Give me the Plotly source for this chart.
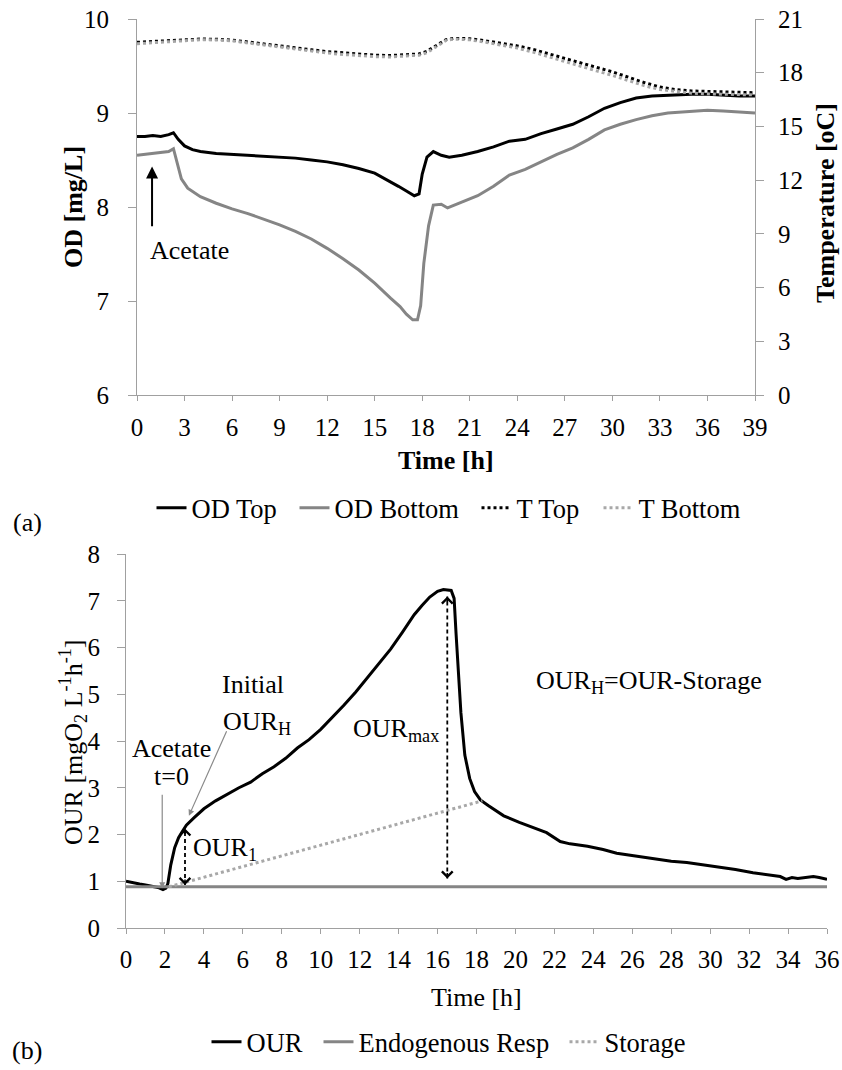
import plotly.graph_objects as go

# ---------------- (a) dissolved oxygen and temperature ----------------
od_time = [0, 0.5, 1.0, 1.5, 2.0, 2.3, 2.6, 3.0, 3.5, 4, 5, 6, 7, 8, 9, 10, 11, 12, 13, 14,
           15, 16, 16.5, 17.0, 17.5, 17.8, 18.0, 18.3, 18.7, 19.2, 19.7, 20.5, 21.5, 22.5,
           23.5, 24.5, 25.5, 26.5, 27.5, 28.5, 29.5, 30.5, 31.5, 32.5, 33.5, 35, 36, 37, 38, 39]
od_top = [8.75, 8.75, 8.76, 8.75, 8.77, 8.79, 8.72, 8.65, 8.61, 8.59, 8.57, 8.56, 8.55, 8.54,
          8.53, 8.52, 8.50, 8.48, 8.45, 8.41, 8.36, 8.27, 8.22, 8.17, 8.12, 8.14, 8.35, 8.53,
          8.59, 8.55, 8.53, 8.55, 8.59, 8.64, 8.70, 8.72, 8.78, 8.83, 8.88, 8.96, 9.05, 9.11,
          9.16, 9.18, 9.19, 9.20, 9.20, 9.19, 9.18, 9.18]

odb_time = [0, 0.5, 1, 1.5, 2.0, 2.3, 2.5, 2.8, 3.2, 4, 5, 6, 7, 8, 9, 10, 11, 12, 13, 14, 15,
            16, 16.6, 17.0, 17.4, 17.7, 17.9, 18.1, 18.4, 18.7, 19.2, 19.6, 20.5, 21.5, 22.5,
            23.5, 24.5, 25.5, 26.5, 27.5, 28.5, 29.5, 30.5, 31.5, 32.5, 33.5, 35, 36, 37, 38, 39]
od_bottom = [8.55, 8.56, 8.57, 8.58, 8.59, 8.62, 8.50, 8.30, 8.20, 8.11, 8.04, 7.98, 7.93,
             7.87, 7.81, 7.74, 7.66, 7.56, 7.45, 7.33, 7.19, 7.03, 6.94, 6.86, 6.80, 6.80,
             6.95, 7.40, 7.80, 8.02, 8.03, 7.99, 8.05, 8.12, 8.22, 8.34, 8.40, 8.48, 8.56,
             8.63, 8.72, 8.82, 8.88, 8.93, 8.97, 9.00, 9.02, 9.03, 9.02, 9.01, 9.00]

temp_time = [0, 1, 2, 3, 4, 5, 6, 7, 8, 9, 10, 11, 12, 13, 14, 15, 16, 17, 17.8, 18.3, 19,
             19.5, 20, 21, 22, 23, 24, 25, 26, 27, 28, 29, 30, 31, 32, 33, 34, 35, 36, 37, 38, 39]
t_top = [19.70, 19.75, 19.80, 19.85, 19.88, 19.87, 19.82, 19.72, 19.60, 19.48, 19.38, 19.28,
         19.18, 19.10, 19.02, 18.98, 18.96, 19.00, 19.05, 19.20, 19.60, 19.85, 19.92, 19.90,
         19.78, 19.65, 19.50, 19.30, 19.05, 18.80, 18.55, 18.30, 18.05, 17.75, 17.45, 17.20,
         17.05, 16.98, 16.95, 16.92, 16.90, 16.88]
t_bottom = [19.62, 19.68, 19.74, 19.80, 19.84, 19.83, 19.78, 19.66, 19.54, 19.42, 19.30, 19.20,
            19.10, 19.02, 18.94, 18.90, 18.88, 18.92, 18.98, 19.12, 19.52, 19.80, 19.88, 19.84,
            19.70, 19.55, 19.38, 19.15, 18.88, 18.62, 18.36, 18.10, 17.85, 17.55, 17.28, 17.06,
            16.94, 16.86, 16.82, 16.80, 16.78, 16.76]

# ---------------- (b) oxygen uptake rate ----------------
our_time = [0, 0.3, 0.7, 1.0, 1.4, 1.7, 1.9, 2.05, 2.15, 2.3, 2.5, 2.7, 2.9, 3.1, 3.5, 4.0,
            4.6, 5.2, 5.8, 6.4, 7.0, 7.6, 8.2, 8.8, 9.4, 10.0, 10.6, 11.2, 11.8, 12.4, 13.0,
            13.6, 14.2, 14.8, 15.2, 15.6, 16.0, 16.3, 16.7, 16.85, 16.95, 17.05, 17.2, 17.4,
            17.65, 17.9, 18.2, 18.6, 19.4, 20.2, 20.8, 21.6, 22.3, 22.8, 23.7, 24.5, 25.2,
            26.2, 27.1, 28.0, 28.8, 29.5, 30.5, 31.3, 32.2, 33.0, 33.6, 33.9, 34.2, 34.5,
            34.8, 35.3, 35.6, 36.0]
our = [1.00, 0.97, 0.94, 0.92, 0.89, 0.86, 0.82, 0.85, 0.95, 1.35, 1.72, 1.93, 2.07, 2.20,
       2.36, 2.55, 2.72, 2.86, 3.00, 3.12, 3.30, 3.45, 3.63, 3.85, 4.03, 4.25, 4.50, 4.77,
       5.05, 5.36, 5.66, 5.97, 6.33, 6.70, 6.90, 7.08, 7.20, 7.24, 7.22, 7.05, 6.30, 5.50,
       4.60, 3.70, 3.20, 2.92, 2.74, 2.62, 2.40, 2.26, 2.17, 2.04, 1.85, 1.80, 1.75, 1.68,
       1.60, 1.54, 1.48, 1.43, 1.40, 1.36, 1.30, 1.25, 1.18, 1.14, 1.10, 1.04, 1.08, 1.06,
       1.08, 1.10, 1.08, 1.04]

endo_time = [0, 36]
endo_resp = [0.88, 0.88]

storage_time = [2.2, 18.3]
storage = [0.88, 2.72]

FONT = "Liberation Serif"
TICK_FS = 25
FS = 26
LEG_FS = 26.5
AXIS_GREY = "#a0a0a0"
DARK_GREY = "#858585"
LIGHT_GREY = "#a8a8a8"


def px_x(p):
    return p / 842.0


def px_y(p):
    return 1.0 - p / 1070.0


fig = go.Figure()

# every legend entry gets its own legend box so it can sit at its own spot
# (legend id, left edge px, vertical centre px)
legend_slots = {
    "OD Top": ("legend", 151.5, 508),
    "OD Bottom": ("legend2", 294.5, 508),
    "T Top": ("legend3", 476.5, 508),
    "T Bottom": ("legend4", 598.5, 508),
    "OUR": ("legend5", 206.5, 1042),
    "Endogenous Resp": ("legend6", 318.5, 1042),
    "Storage": ("legend7", 564.5, 1042),
}


def add_line(x, y, name, color, dash, xa, ya):
    fig.add_trace(go.Scatter(x=x, y=y, name=name, mode="lines",
                             line=dict(color=color, width=3, dash=dash), xaxis=xa, yaxis=ya,
                             legend=legend_slots[name][0]))


# (a) traces
add_line(od_time, od_top, "OD Top", "black", "solid", "x", "y")
add_line(odb_time, od_bottom, "OD Bottom", DARK_GREY, "solid", "x", "y")
add_line(temp_time, t_top, "T Top", "black", "dot", "x", "y2")
add_line(temp_time, t_bottom, "T Bottom", LIGHT_GREY, "dot", "x", "y2")

# (b) traces
add_line(our_time, our, "OUR", "black", "solid", "x2", "y3")
add_line(endo_time, endo_resp, "Endogenous Resp", DARK_GREY, "solid", "x2", "y3")
add_line(storage_time, storage, "Storage", LIGHT_GREY, "dot", "x2", "y3")

tick_font = dict(family=FONT, size=TICK_FS, color="black")
common = dict(showgrid=False, zeroline=False, showline=True, linecolor=AXIS_GREY,
              linewidth=1, ticks="outside", tickcolor=AXIS_GREY, tickfont=tick_font,
              automargin=False)

legends = {}
for lid, lx, ly in legend_slots.values():
    legends[lid] = dict(orientation="h", x=px_x(lx), xanchor="left", y=px_y(ly),
                        yanchor="middle", font=dict(family=FONT, size=LEG_FS, color="black"),
                        itemwidth=30, bgcolor="rgba(0,0,0,0)", borderwidth=0)

fig.update_layout(
    width=842, height=1070,
    margin=dict(l=0, r=0, t=0, b=0, autoexpand=False),
    paper_bgcolor="white", plot_bgcolor="white",
    font=dict(family=FONT, size=FS, color="black"),
    xaxis=dict(domain=[px_x(137), px_x(755)], range=[0, 39], dtick=3, tick0=0,
               anchor="y", ticklen=5, ticklabelstandoff=5, **common),
    yaxis=dict(domain=[px_y(395), px_y(19)], range=[6, 10], dtick=1, anchor="x",
               ticklen=8, ticklabelstandoff=14, **common),
    yaxis2=dict(domain=[px_y(395), px_y(19)], range=[0, 21], dtick=3, anchor="x",
                overlaying="y", side="right", ticklen=8, ticklabelstandoff=9, **common),
    xaxis2=dict(domain=[px_x(126), px_x(827)], range=[0, 36], dtick=2, tick0=0,
                anchor="y3", ticklen=5, ticklabelstandoff=4, **common),
    yaxis3=dict(domain=[px_y(928), px_y(554)], range=[0, 8], dtick=1, anchor="x2",
                ticklen=8, ticklabelstandoff=12, **common),
    showlegend=True,
    **legends,
)


def paper_text(text, xp, yp, angle=0):
    fig.add_annotation(text=text, xref="paper", yref="paper", x=px_x(xp), y=px_y(yp),
                       xanchor="center", yanchor="middle", textangle=angle,
                       showarrow=False, font=dict(family=FONT, size=FS))


# axis titles
paper_text("<b>OD [mg/L]</b>", 73, 207, -90)
paper_text("<b>Temperature [oC]</b>", 825, 203, -90)
paper_text("<b>Time [h]</b>", 446, 460)
paper_text("Time [h]", 476, 997)
paper_text("OUR [mgO<sub>2</sub> L<sup>-1</sup>h<sup>-1</sup>]", 73, 742, -90)

# panel letters
paper_text("(a)", 27, 522)
paper_text("(b)", 27, 1050)


def data_text(text, x, y, xref, yref, anchor="center"):
    fig.add_annotation(text=text, x=x, y=y, xref=xref, yref=yref, xanchor=anchor,
                       yanchor="middle", showarrow=False, font=dict(family=FONT, size=FS))


def arrow(x, y, ax, ay, xref, yref, color, width, head, size):
    fig.add_annotation(x=x, y=y, ax=ax, ay=ay, xref=xref, yref=yref, axref=xref,
                       ayref=yref, text="", showarrow=True, arrowhead=head,
                       arrowsize=size, arrowwidth=width, arrowcolor=color, standoff=0)


# (a) acetate dosing marker
acetate_a_t, acetate_a_tip, acetate_a_tail = 0.95, 8.43, 7.78
arrow(acetate_a_t, acetate_a_tip, acetate_a_t, acetate_a_tail, "x", "y", "black", 2, 2, 1.2)
data_text("Acetate", 0.7, 7.54, "x", "y", "left")

# (b) labels
data_text("Initial", 6.5, 5.2, "x2", "y3")
data_text("OUR<sub>H</sub>", 6.75, 4.38, "x2", "y3")
data_text("Acetate", 2.35, 3.84, "x2", "y3")
data_text("t=0", 2.35, 3.24, "x2", "y3")
data_text("OUR<sub>1</sub>", 3.35, 1.68, "x2", "y3", "left")
data_text("OUR<sub>max</sub>", 11.55, 4.24, "x2", "y3", "left")
data_text("OUR<sub>H</sub>=OUR-Storage", 20.95, 5.27, "x2", "y3", "left")

# thin grey pointers
arrow(1.86, 0.85, 1.86, 2.88, "x2", "y3", "#8a8a8a", 1.2, 2, 1)
arrow(3.23, 2.4, 5.2, 4.24, "x2", "y3", "#8a8a8a", 1.2, 2, 1)

# dashed double-headed arrows for OUR1 and OURmax
for t_arrow, lo, hi in [(3.03, 0.92, 2.13), (16.5, 1.06, 7.09)]:
    fig.add_shape(type="line", x0=t_arrow, x1=t_arrow, y0=lo, y1=hi, xref="x2", yref="y3",
                  line=dict(color="black", width=1.8, dash="4px,3px"))
    arrow(t_arrow, hi, t_arrow, hi - 0.15, "x2", "y3", "black", 1.6, 4, 1.3)
    arrow(t_arrow, lo, t_arrow, lo + 0.15, "x2", "y3", "black", 1.6, 4, 1.3)

fig.write_html("out.html")
